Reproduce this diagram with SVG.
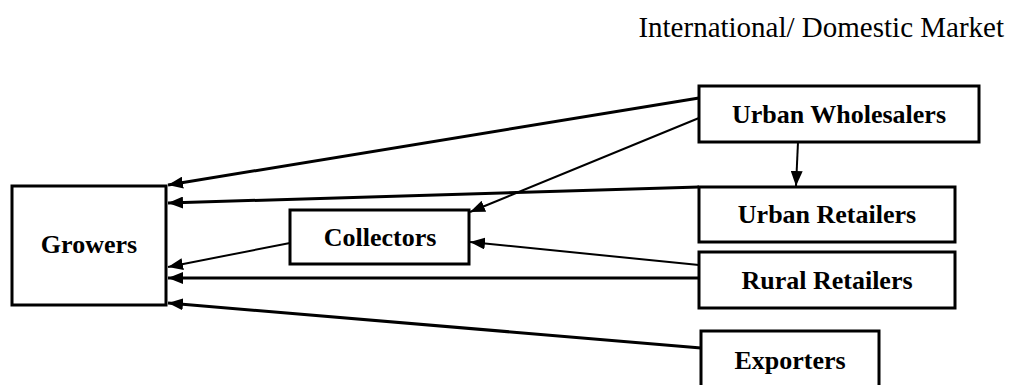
<svg xmlns="http://www.w3.org/2000/svg" width="1011" height="385" viewBox="0 0 1011 385">
<defs>
<style>
.box{fill:#fff;stroke:#000;stroke-width:3}
.lbl{font-family:"Liberation Serif","Times New Roman",serif;font-weight:bold;font-size:26px;text-anchor:middle;fill:#000}
.title{font-family:"Liberation Serif","Times New Roman",serif;font-size:29px;text-anchor:end;fill:#000}
.thick{stroke:#000;stroke-width:3;fill:none;marker-end:url(#ah)}
.thin{stroke:#000;stroke-width:2;fill:none;marker-end:url(#ah)}
</style>
<marker id="ah" markerUnits="userSpaceOnUse" markerWidth="16" markerHeight="12" refX="15" refY="6" orient="auto">
<path d="M0,0 L15,6 L0,12 z" fill="#000"/>
</marker>
</defs>
<rect width="1011" height="385" fill="#fff"/>
<text class="title" x="1004" y="37">International/ Domestic Market</text>
<g id="connectors">
<line class="thick" x1="699" y1="98" x2="168" y2="185"/>
<line class="thick" x1="699" y1="187" x2="168" y2="203"/>
<line class="thin" x1="699" y1="118" x2="470" y2="212"/>
<line class="thin" x1="290" y1="243" x2="168" y2="267"/>
<line class="thin" x1="699" y1="265" x2="470" y2="242"/>
<line class="thick" x1="699" y1="278" x2="168" y2="278"/>
<line class="thick" x1="701" y1="348" x2="168" y2="303"/>
<line class="thin" x1="798" y1="142" x2="796" y2="186"/>
</g>
<g id="growers"><rect class="box" x="12" y="186" width="154" height="119"/><text class="lbl" x="89" y="253">Growers</text></g>
<g id="collectors"><rect class="box" x="290" y="210" width="179" height="54"/><text class="lbl" x="380" y="246">Collectors</text></g>
<g id="urban-wholesalers"><rect class="box" x="699" y="86" width="280" height="56"/><text class="lbl" x="839" y="123">Urban Wholesalers</text></g>
<g id="urban-retailers"><rect class="box" x="699" y="187" width="256" height="55"/><text class="lbl" x="827" y="223">Urban Retailers</text></g>
<g id="rural-retailers"><rect class="box" x="699" y="252" width="256" height="56"/><text class="lbl" x="827" y="289">Rural Retailers</text></g>
<g id="exporters"><rect class="box" x="701" y="331" width="178" height="62"/><text class="lbl" x="790" y="369">Exporters</text></g>
</svg>
